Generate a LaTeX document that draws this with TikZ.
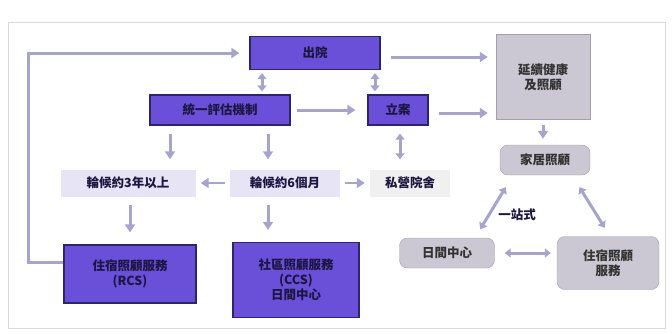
\documentclass[tikz,border=0pt]{standalone}
\usepackage{fontspec}
\newfontfamily\cjk{Noto Sans CJK TC}
\usetikzlibrary{arrows.meta}
\definecolor{boxpurple}{HTML}{6A50D8}
\definecolor{boxedge}{HTML}{2C2470}
\definecolor{greybox}{HTML}{CBC7D3}
\definecolor{waitbox}{HTML}{E6E4F5}
\definecolor{flowline}{HTML}{A6A3CF}
\definecolor{inktext}{HTML}{1C1640}
\newcommand{\boxfont}{\cjk\bfseries\fontsize{12.5}{15}\selectfont}

\begin{document}
\begin{tikzpicture}[x=1pt,y=-1pt]
			\tikzset{dark box/.style={draw=boxedge,line width=1.2pt,fill=boxpurple,minimum height=30pt,font=\boxfont,text=inktext,align=center,inner sep=2pt},
				grey box/.style={fill=greybox,draw=greybox!80!black,line width=0.4pt,minimum height=30pt,font=\boxfont,text=black!80,align=center},
				round box/.style={grey box,rounded corners=8pt},
				wait box/.style={fill=waitbox,minimum height=27pt,font=\boxfont,text=inktext},
				flow/.style={draw=flowline,line width=3pt,-{Triangle[length=8pt,width=10pt]}},
				both flow/.style={flow,{Triangle[length=6pt,width=9pt]}-{Triangle[length=6pt,width=9pt]}}}
			
			\useasboundingbox (0,0) rectangle (672,333);
			\draw[black!15,line width=1pt] (8,22) rectangle (665,328);
			
			\node [dark box,minimum width=130pt,minimum height=33pt] (discharge) at (315,53) {出院};
			\node [dark box,minimum width=140pt] (assess) at (220,110) {統一評估機制};
			\node [dark box,minimum width=60pt] (case) at (398,110) {立案};
			\node [grey box,minimum width=94pt,minimum height=85pt] (cont) at (543,77) {延續健康\\及照顧};
			\node [wait box,minimum width=135pt] (wait3) at (128,183) {輪候約3年以上};
			\node [wait box,minimum width=110pt] (wait6) at (285,183) {輪候約6個月};
			\node [wait box,fill=black!6,minimum width=80pt] (private) at (410,183) {私營院舍};
			\node [round box,minimum width=90pt] (home) at (545,160) {家居照顧};
			\node [round box,minimum width=95pt] (day) at (447,253) {日間中心};
			\node [round box,minimum width=102pt,minimum height=53pt] (res) at (608,263) {住宿照顧\\服務};
			\node [dark box,minimum width=132pt,minimum height=58pt] (rcs) at (130,274) {住宿照顧服務\\(RCS)};
			\node [dark box,minimum width=126pt,minimum height=75pt] (ccs) at (296,280) {社區照顧服務\\(CCS)\\日間中心};
			\node [font=\boxfont,text=inktext] (onestop) at (517,215) {一站式};
			
			\draw[flow,shorten >=10pt] ([yshift=12pt]rcs.west) -- ++(-35,0) |- (discharge.west);
			\draw[flow,shorten <=10pt,shorten >=8pt] ([yshift=-4pt]discharge.east) -- ([yshift=-4pt]discharge.east -| cont.west);
			\draw[flow,shorten <=10pt,shorten >=8pt] ([yshift=-3pt]case.east) -- ([yshift=-3pt]case.east -| cont.west);
			\draw[both flow,shorten <=3pt,shorten >=3pt] ([xshift=-53pt]discharge.south) -- ([xshift=42pt]assess.north);
			\draw[both flow,shorten <=3pt,shorten >=3pt] ([xshift=60pt]discharge.south) -- ([xshift=-23pt]case.north);
			\draw[flow,shorten <=6pt,shorten >=12pt] (assess.east) -- (case.west);
			\draw[flow,shorten <=8pt,shorten >=10pt] ([xshift=-50pt]assess.south) -- ([xshift=42pt]wait3.north);
			\draw[flow,shorten <=8pt,shorten >=10pt] ([xshift=48pt]assess.south) -- ([xshift=-17pt]wait6.north);
			\draw[both flow,shorten <=8pt,shorten >=10pt] ([xshift=2pt]case.south) -- ([xshift=-10pt]private.north);
			\draw[flow,line width=2pt,shorten <=5pt,shorten >=5pt] (wait6.west) -- (wait3.east);
			\draw[flow,line width=2pt,shorten <=5pt,shorten >=5pt] (wait6.east) -- (private.west);
			\draw[flow,shorten <=8pt,shorten >=12pt] ([xshift=2pt]wait3.south) -- ([xshift=2pt]wait3.south |- rcs.north);
			\draw[flow,shorten <=8pt,shorten >=12pt] ([xshift=-17pt]wait6.south) -- ([xshift=-17pt]wait6.south |- ccs.north);
			\draw[flow,shorten <=5pt,shorten >=6pt] (cont.south) -- (cont.south |- home.north);
			\draw[both flow,shorten <=14pt,shorten >=10pt] ([xshift=-32pt]home.south) -- ([xshift=28pt]day.north);
			\draw[both flow,shorten <=14pt,shorten >=10pt] ([xshift=27pt]home.south) -- ([xshift=2pt]res.north);
			\draw[both flow,shorten <=10pt,shorten >=6pt] (day.east) -- (day.east -| res.west);
			\end{tikzpicture}
\end{document}
